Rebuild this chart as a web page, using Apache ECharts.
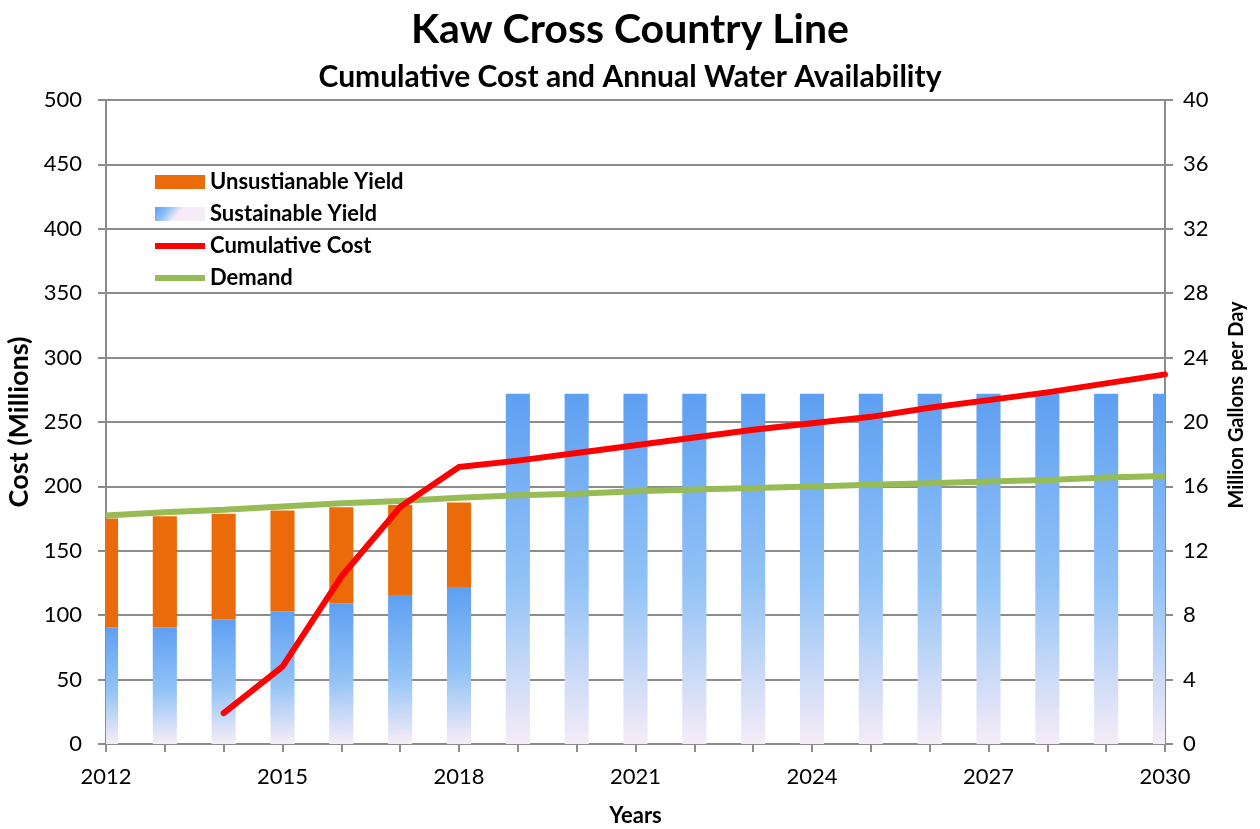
<!DOCTYPE html>
<html>
<head>
<meta charset="utf-8">
<title>Kaw Cross Country Line</title>
<script src="https://cdn.jsdelivr.net/npm/echarts@6/dist/echarts.min.js"></script>
<style>
  html, body { margin: 0; padding: 0; background: #fff; }
  #main { width: 1260px; height: 829px; }
</style>
</head>
<body>
<div id="main"></div>
<script>
// data
const years = ["2012", "2013", "2014", "2015", "2016", "2017", "2018", "2019", "2020", "2021",
  "2022", "2023", "2024", "2025", "2026", "2027", "2028", "2029", "2030"];
// million gallons per day (right axis)
const sustainable = [7.25, 7.25, 7.75, 8.25, 8.75, 9.25, 9.75, 21.75, 21.75, 21.75,
  21.75, 21.75, 21.75, 21.75, 21.75, 21.75, 21.75, 21.75, 21.75];
const unsustainable = [6.75, 6.9, 6.55, 6.25, 5.95, 5.6, 5.25, 0, 0, 0,
  0, 0, 0, 0, 0, 0, 0, 0, 0];
const demand = [14.2, 14.4, 14.55, 14.75, 14.95, 15.1, 15.3, 15.45, 15.55, 15.7,
  15.8, 15.9, 16.0, 16.1, 16.2, 16.3, 16.4, 16.55, 16.65];
// cumulative cost, millions (left axis), starts in 2014
const costYears = ["2014", "2015", "2016", "2017", "2018", "2019", "2020", "2021", "2022",
  "2023", "2024", "2025", "2026", "2027", "2028", "2029", "2030"];
const cost = [24, 60, 130, 184, 215, 220, 226, 232, 238,
  244, 249, 254, 261, 267, 273, 280, 287];

const font = "Lato";
const gridGray = "#8c8c8c";
// flat bar used as legend icon for the two lines
const lineIcon = "path://M0,0 L50,0 L50,6 L0,6 Z";

// stacked bars as [year, from, to] so the end bars can be clipped at the axes
let sustRows = years.map(function (y, i) {
  return [y, 0, sustainable[i]];
});
let unsustRows = years.map(function (y, i) {
  return [y, sustainable[i], sustainable[i] + unsustainable[i]];
});

function renderBar(params, api) {
  let top = api.coord([api.value(0), api.value(2)]);
  let bottom = api.coord([api.value(0), api.value(1)]);
  let w = api.size([1, 0])[0] * 0.41; // bar width = 41% of a year
  return {
    type: "rect",
    shape: { x: top[0] - w / 2, y: top[1], width: w, height: bottom[1] - top[1] },
    style: api.style(),
  };
}

let myChart = echarts.init(document.getElementById("main"));

let blueFill = new echarts.graphic.LinearGradient(0, 0, 0.35, 1, [
  { offset: 0, color: "#5e9ff2" },
  { offset: 0.55, color: "#93c3f6" },
  { offset: 1, color: "#f6ecf8" },
]);

let option = {
  backgroundColor: "#fff",
  animation: false,
  textStyle: { fontFamily: font },
  title: [
    {
      text: "Kaw Cross Country Line",
      left: "center",
      top: 4,
      textStyle: { fontSize: 41, fontWeight: "bold", color: "#000", fontFamily: font },
    },
    {
      text: "Cumulative Cost and Annual Water Availability",
      left: "center",
      top: 57,
      textStyle: { fontSize: 30, fontWeight: "bold", color: "#000", fontFamily: font },
    },
  ],
  legend: {
    orient: "vertical",
    left: 150,
    top: 166,
    itemWidth: 50,
    itemHeight: 14,
    itemGap: 10,
    textStyle: { fontSize: 22, lineHeight: 22, fontWeight: "bold", color: "#000", fontFamily: font },
    data: [
      { name: "Unsustianable Yield", icon: "rect" },
      { name: "Sustainable Yield", icon: "rect" },
      { name: "Cumulative Cost", icon: lineIcon },
      { name: "Demand", icon: lineIcon },
    ],
  },
  grid: { left: 106, right: 95, top: 100, bottom: 85, outerBoundsMode: "none" },
  xAxis: {
    type: "category",
    data: years,
    boundaryGap: false,
    name: "Years",
    nameLocation: "middle",
    nameGap: 61,
    nameTextStyle: { fontSize: 22, fontWeight: "bold", color: "#000" },
    axisLine: { lineStyle: { color: gridGray, width: 2 } },
    axisTick: { interval: 0, length: 8, lineStyle: { color: gridGray, width: 2 } },
    axisLabel: { interval: 2, fontSize: 22, color: "#000", margin: 22 },
    splitLine: { show: false },
  },
  yAxis: [
    {
      type: "value",
      min: 0,
      max: 500,
      interval: 50,
      name: "Cost (Millions)",
      nameLocation: "middle",
      nameGap: 63,
      nameRotate: 90,
      nameTextStyle: { fontSize: 27, fontWeight: "bold", color: "#000" },
      axisLine: { show: true, lineStyle: { color: gridGray, width: 2 } },
      axisTick: { show: true, length: 8, lineStyle: { color: gridGray, width: 2 } },
      axisLabel: { fontSize: 22, color: "#000", margin: 24 },
      splitLine: { lineStyle: { color: gridGray, width: 2 } },
    },
    {
      type: "value",
      min: 0,
      max: 40,
      interval: 4,
      name: "Million Gallons per Day",
      nameLocation: "middle",
      nameGap: 62,
      nameRotate: 90,
      nameTextStyle: { fontSize: 20, fontWeight: "bold", color: "#000", padding: [0, 0, 0, 34] },
      axisLine: { show: true, lineStyle: { color: gridGray, width: 2 } },
      axisTick: { show: true, length: 8, lineStyle: { color: gridGray, width: 2 } },
      axisLabel: { fontSize: 22, color: "#000", margin: 18 },
      splitLine: { show: false },
    },
  ],
  series: [
    {
      name: "Sustainable Yield",
      type: "custom",
      yAxisIndex: 1,
      clip: true,
      renderItem: renderBar,
      encode: { x: 0, y: [1, 2] },
      itemStyle: { color: blueFill },
      data: sustRows,
    },
    {
      name: "Unsustianable Yield",
      type: "custom",
      yAxisIndex: 1,
      clip: true,
      renderItem: renderBar,
      encode: { x: 0, y: [1, 2] },
      itemStyle: { color: "#eb6b0a" },
      data: unsustRows,
    },
    {
      name: "Demand",
      type: "line",
      yAxisIndex: 1,
      symbol: "none",
      itemStyle: { color: "#97bb55" },
      lineStyle: { color: "#97bb55", width: 6 },
      data: demand,
    },
    {
      name: "Cumulative Cost",
      type: "line",
      yAxisIndex: 0,
      symbol: "none",
      itemStyle: { color: "#ff0000" },
      lineStyle: { color: "#ff0000", width: 6, cap: "round", join: "round" },
      data: costYears.map(function (y, i) { return [y, cost[i]]; }),
    },
  ],
};

myChart.setOption(option);
window.addEventListener("resize", function () {
  myChart.resize();
});
</script>
</body>
</html>
